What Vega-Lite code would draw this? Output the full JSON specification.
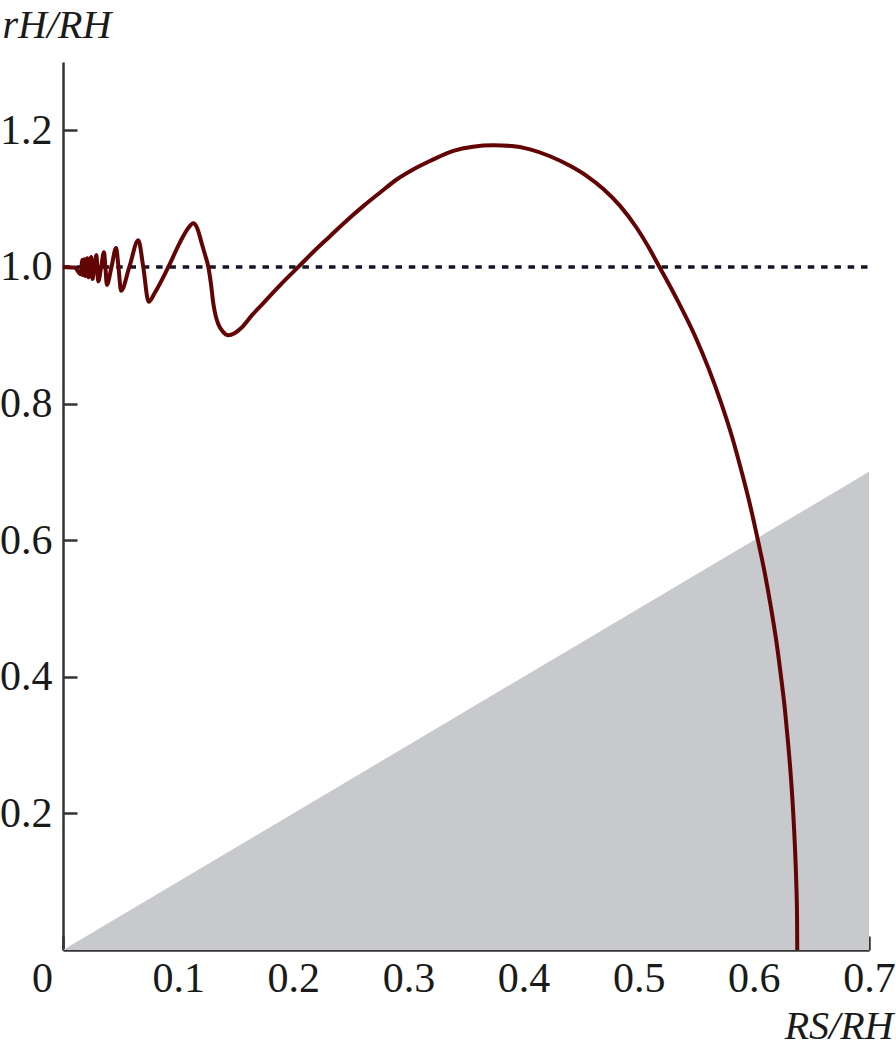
{
  "$schema": "https://vega.github.io/schema/vega-lite/v6.json",
  "width": 806,
  "height": 888,
  "autosize": "none",
  "padding": {"left": 63, "top": 62, "right": 27, "bottom": 112},
  "background": "white",
  "config": {
    "view": {"stroke": null},
    "axis": {
      "grid": false,
      "domainColor": "#333333",
      "domainWidth": 2.5,
      "tickColor": "#333333",
      "tickWidth": 2.5,
      "tickSize": -14,
      "labelFont": "Liberation Serif",
      "labelFontSize": 42,
      "labelColor": "#1a1a1a",
      "labelFlush": false,
      "titleFont": "Liberation Serif",
      "titleFontStyle": "italic",
      "titleFontWeight": "normal",
      "titleFontSize": 40,
      "titleColor": "#1a1a1a"
    }
  },
  "datasets": {
    "tri": [{"x": 0, "y": 0}, {"x": 0.7, "y": 0.7}],
    "curve": [
      {"x": 0.0, "y": 1.0},
      {"x": 0.0100, "y": 0.999},
      {"x": 0.01547, "y": 0.9893},
      {"x": 0.01609, "y": 1.0},
      {"x": 0.01664, "y": 1.0100},
      {"x": 0.01691, "y": 1.0},
      {"x": 0.01717, "y": 0.9882},
      {"x": 0.01794, "y": 1.0},
      {"x": 0.01863, "y": 1.0112},
      {"x": 0.01896, "y": 1.0},
      {"x": 0.01929, "y": 0.9867},
      {"x": 0.02026, "y": 1.0},
      {"x": 0.02115, "y": 1.0127},
      {"x": 0.02158, "y": 1.0},
      {"x": 0.02200, "y": 0.9848},
      {"x": 0.02328, "y": 1.0},
      {"x": 0.02446, "y": 1.0147},
      {"x": 0.02503, "y": 1.0},
      {"x": 0.02561, "y": 0.9823},
      {"x": 0.02736, "y": 1.0},
      {"x": 0.02899, "y": 1.0174},
      {"x": 0.02981, "y": 1.0},
      {"x": 0.03063, "y": 0.9789},
      {"x": 0.03317, "y": 1.0},
      {"x": 0.03560, "y": 1.0214},
      {"x": 0.03683, "y": 1.0},
      {"x": 0.03810, "y": 0.9737},
      {"x": 0.04211, "y": 1.0},
      {"x": 0.04610, "y": 1.0277},
      {"x": 0.04819, "y": 1.0},
      {"x": 0.05038, "y": 0.9652},
      {"x": 0.05764, "y": 1.0},
      {"x": 0.06540, "y": 1.0392},
      {"x": 0.06969, "y": 1.0},
      {"x": 0.07435, "y": 0.9490},
      {"x": 0.0800, "y": 0.963},
      {"x": 0.0915, "y": 1.0},
      {"x": 0.1016, "y": 1.036},
      {"x": 0.1080, "y": 1.055},
      {"x": 0.1132, "y": 1.064},
      {"x": 0.1165, "y": 1.057},
      {"x": 0.1204, "y": 1.035},
      {"x": 0.1235, "y": 1.017},
      {"x": 0.1262, "y": 1.0},
      {"x": 0.1285, "y": 0.975},
      {"x": 0.1305, "y": 0.947},
      {"x": 0.1325, "y": 0.929},
      {"x": 0.1349, "y": 0.916},
      {"x": 0.1390, "y": 0.905},
      {"x": 0.1436, "y": 0.900},
      {"x": 0.1490, "y": 0.903},
      {"x": 0.1550, "y": 0.911},
      {"x": 0.1640, "y": 0.929},
      {"x": 0.1740, "y": 0.947},
      {"x": 0.1890, "y": 0.974},
      {"x": 0.2044, "y": 1.000},
      {"x": 0.2180, "y": 1.023},
      {"x": 0.2319, "y": 1.045},
      {"x": 0.2465, "y": 1.068},
      {"x": 0.2608, "y": 1.089},
      {"x": 0.2755, "y": 1.109},
      {"x": 0.2898, "y": 1.128},
      {"x": 0.3045, "y": 1.143},
      {"x": 0.3187, "y": 1.155},
      {"x": 0.3390, "y": 1.170},
      {"x": 0.3560, "y": 1.176},
      {"x": 0.3737, "y": 1.178},
      {"x": 0.3900, "y": 1.177},
      {"x": 0.4056, "y": 1.172},
      {"x": 0.4230, "y": 1.162},
      {"x": 0.4403, "y": 1.148},
      {"x": 0.4550, "y": 1.133},
      {"x": 0.4693, "y": 1.114},
      {"x": 0.4840, "y": 1.089},
      {"x": 0.4983, "y": 1.057},
      {"x": 0.5085, "y": 1.029},
      {"x": 0.5180, "y": 1.000},
      {"x": 0.5340, "y": 0.950},
      {"x": 0.5486, "y": 0.900},
      {"x": 0.5610, "y": 0.850},
      {"x": 0.5718, "y": 0.800},
      {"x": 0.5813, "y": 0.750},
      {"x": 0.5894, "y": 0.700},
      {"x": 0.5969, "y": 0.650},
      {"x": 0.6035, "y": 0.600},
      {"x": 0.6097, "y": 0.550},
      {"x": 0.6150, "y": 0.500},
      {"x": 0.6197, "y": 0.450},
      {"x": 0.6236, "y": 0.400},
      {"x": 0.6271, "y": 0.350},
      {"x": 0.6299, "y": 0.300},
      {"x": 0.6323, "y": 0.250},
      {"x": 0.6342, "y": 0.200},
      {"x": 0.6357, "y": 0.150},
      {"x": 0.6368, "y": 0.100},
      {"x": 0.6375, "y": 0.050},
      {"x": 0.6377, "y": 0.000}
    ]
  },
  "layer": [
    {
      "data": {"name": "tri"},
      "mark": {"type": "area", "color": "#c8c9cc", "opacity": 1},
      "encoding": {
        "x": {"field": "x", "type": "quantitative", "scale": {"domain": [0, 0.7], "nice": false, "zero": false},
          "axis": {
            "values": [0, 0.1, 0.2, 0.3, 0.4, 0.5, 0.6, 0.7],
            "labelExpr": "datum.value == 0 ? '0' : format(datum.value, '.1f')",
            "labelPadding": 22,
            "labelOffset": {"condition": {"test": "datum.value == 0", "value": -21}, "value": 0},
            "title": "RS/RH",
            "titleAnchor": "end",
            "titleAlign": "right",
            "titleBaseline": "alphabetic",
            "titleX": 830,
            "titleY": 88
          }},
        "y": {"field": "y", "type": "quantitative", "scale": {"domain": [0, 1.3], "nice": false, "zero": false},
          "axis": {
            "values": [0.2, 0.4, 0.6, 0.8, 1.0, 1.2],
            "format": ".1f",
            "labelPadding": 25,
            "title": "rH/RH",
            "titleAngle": 0,
            "titleAlign": "left",
            "titleBaseline": "alphabetic",
            "titleX": -61,
            "titleY": -25
          }}
      }
    },
    {
      "data": {"values": [{"level": 1.0, "start": 0, "end": 0.7}]},
      "mark": {"type": "rule", "color": "#141428", "strokeWidth": 3.5, "strokeDash": [6.5, 6.8]},
      "encoding": {
        "x": {"field": "start", "type": "quantitative"},
        "x2": {"field": "end"},
        "y": {"field": "level", "type": "quantitative"}
      }
    },
    {
      "data": {"name": "curve"},
      "mark": {"type": "line", "color": "#620404", "strokeWidth": 4, "interpolate": "monotone"},
      "encoding": {
        "x": {"field": "x", "type": "quantitative"},
        "y": {"field": "y", "type": "quantitative"}
      }
    }
  ]
}
